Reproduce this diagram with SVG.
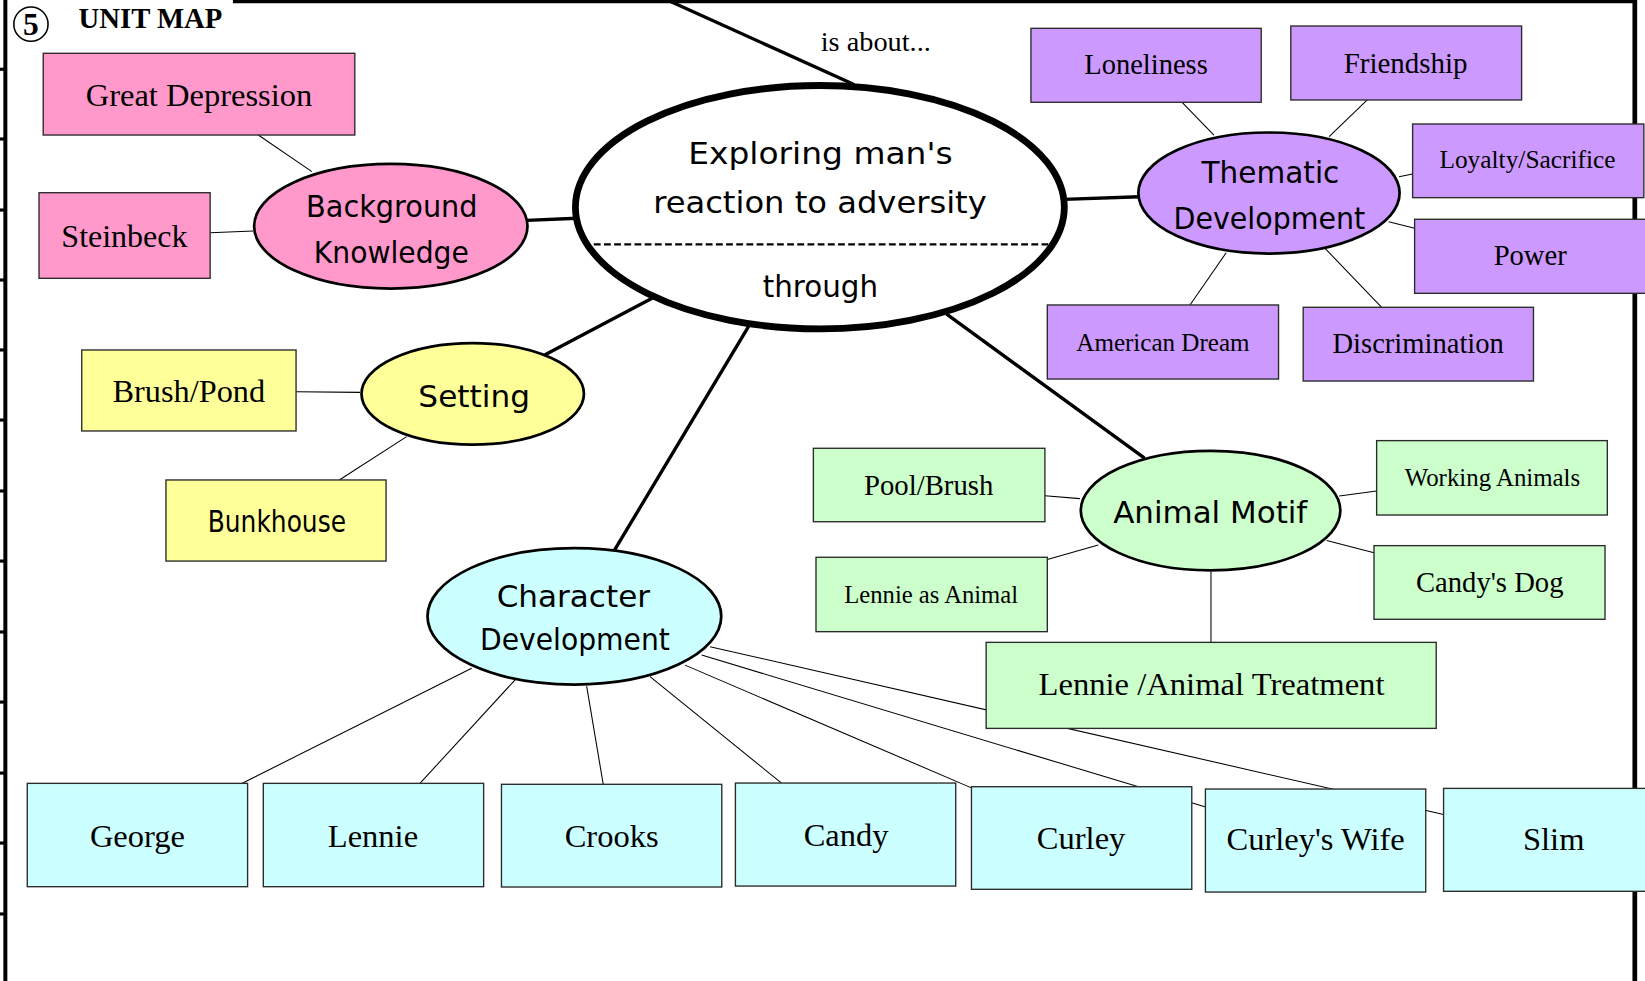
<svg xmlns="http://www.w3.org/2000/svg" width="1645" height="981" viewBox="0 0 1645 981">
<style>
.box{stroke:#2b2b2b;stroke-width:1.3}
.ell{stroke:#000;stroke-width:2.6}
.pink{fill:#FF99CC}.yel{fill:#FFFF99}.pur{fill:#CC99FF}.grn{fill:#CCFFCC}.cyn{fill:#CCFFFF}
.serif{font-family:"Liberation Serif","Times New Roman",serif;fill:#000;text-anchor:middle}
.comic{font-family:"DejaVu Sans","Noto Sans",sans-serif;fill:#000;text-anchor:middle;font-size:28px}
.thin{stroke:#000;stroke-width:1;fill:none}
.thick{stroke:#000;stroke-width:3.2;fill:none;stroke-linecap:round}
.frame{stroke:#000;fill:none}
</style>
<rect width="1645" height="981" fill="#fff"/>
<g transform="scale(1.0491)">
<g id="frame">
<line class="frame" x1="5.1" y1="0" x2="5.1" y2="935" stroke-width="3.8"/>
<g fill="#000">
<rect x="0" y="64.5" width="5" height="3"/><rect x="0" y="131" width="5" height="3"/><rect x="0" y="198.7" width="5" height="3"/><rect x="0" y="265.4" width="5" height="3"/><rect x="0" y="332.1" width="5" height="3"/><rect x="0" y="398.9" width="5" height="3"/><rect x="0" y="466.5" width="5" height="3"/><rect x="0" y="533.3" width="5" height="3"/><rect x="0" y="600.9" width="5" height="3"/><rect x="0" y="667.7" width="5" height="3"/><rect x="0" y="735.4" width="5" height="3"/><rect x="0" y="802.1" width="5" height="3"/><rect x="0" y="869.7" width="5" height="3"/>
</g>
<line class="frame" x1="222" y1="1.5" x2="1560" y2="1.5" stroke-width="3.2"/>
<line class="frame" x1="1558.3" y1="0" x2="1558.3" y2="935" stroke-width="4.5"/>
</g>
<g id="title">
<circle cx="29.5" cy="23" r="16.3" fill="none" stroke="#000" stroke-width="1.5"/>
<text class="serif" x="29.5" y="33.4" font-size="30" font-weight="bold">5</text>
<text x="74.8" y="27" font-family="Liberation Serif,serif" font-weight="bold" font-size="27.4">UNIT MAP</text>
<text class="serif" x="834.8" y="48.3" font-size="27">is about...</text>
</g>
<g id="connectors">
<line class="thick" x1="636" y1="0" x2="813" y2="80"/>
<line class="thick" x1="502" y1="210" x2="550" y2="208"/>
<line class="thick" x1="520" y1="338" x2="622" y2="284"/>
<line class="thick" x1="1014" y1="190" x2="1086" y2="187.5"/>
<line class="thick" x1="903" y1="300" x2="1090" y2="436"/>
<line class="thick" x1="713" y1="312" x2="586" y2="524"/>
<line class="thin" x1="246.2" y1="128.7" x2="297.3" y2="163.6"/>
<line class="thin" x1="200.3" y1="221.8" x2="241.5" y2="220.2"/>
<line class="thin" x1="282.2" y1="373.4" x2="343.2" y2="374"/>
<line class="thin" x1="323.4" y1="457.5" x2="387.6" y2="416.2"/>
<line class="thin" x1="1126.8" y1="97.5" x2="1157.1" y2="128.7"/>
<line class="thin" x1="1303.3" y1="95.3" x2="1266.9" y2="130.3"/>
<line class="thin" x1="1346.5" y1="165.9" x2="1333.5" y2="168.4"/>
<line class="thin" x1="1348.4" y1="217.6" x2="1323.7" y2="211.3"/>
<line class="thin" x1="1134.3" y1="290.7" x2="1168.8" y2="240.9"/>
<line class="thin" x1="1317" y1="292.9" x2="1263" y2="236.7"/>
<line class="thin" x1="996" y1="472.5" x2="1029.4" y2="475.3"/>
<line class="thin" x1="998.3" y1="533.2" x2="1046.9" y2="519.5"/>
<line class="thin" x1="1312.2" y1="468" x2="1276.6" y2="472.8"/>
<line class="thin" x1="1309.7" y1="526.8" x2="1264.6" y2="515.3"/>
<line class="thin" x1="1154.3" y1="545" x2="1154.3" y2="612.3"/>
<line class="thin" x1="449.6" y1="637" x2="230" y2="747"/>
<line class="thin" x1="491" y1="648" x2="400.3" y2="746.7"/>
<line class="thin" x1="559.2" y1="654" x2="575" y2="747.6"/>
<line class="thin" x1="619.6" y1="645" x2="745" y2="746.5"/>
<line class="thin" x1="653" y1="634" x2="926" y2="751"/>
<line class="thin" x1="668.8" y1="624.4" x2="1150" y2="769.5"/>
<line class="thin" x1="676.8" y1="616.4" x2="1376" y2="776.3"/>
</g>
<g id="central">
<ellipse cx="781.5" cy="197.5" rx="233" ry="116" fill="#fff" stroke="#000" stroke-width="6.5"/>
<line x1="566" y1="232.9" x2="1001" y2="232.9" stroke="#000" stroke-width="2" stroke-dasharray="6.5,3.2"/>
<text class="comic" x="782" y="156.6" textLength="252" lengthAdjust="spacingAndGlyphs">Exploring man's</text>
<text class="comic" x="781.6" y="203.3" textLength="318" lengthAdjust="spacingAndGlyphs">reaction to adversity</text>
<text class="comic" x="782" y="282.8" textLength="110" lengthAdjust="spacingAndGlyphs">through</text>
</g>
<g id="background-knowledge">
<ellipse class="ell pink" cx="372.5" cy="215.7" rx="130.3" ry="59.4"/>
<text class="comic" x="373.5" y="206.5" textLength="163.5" lengthAdjust="spacingAndGlyphs">Background</text>
<text class="comic" x="373" y="251" textLength="147.8" lengthAdjust="spacingAndGlyphs">Knowledge</text>
</g>
<g id="great-depression"><rect class="box pink" x="41.2" y="50.8" width="297" height="77.9"/><text class="serif" x="189.7" y="101" font-size="31">Great Depression</text></g>
<g id="steinbeck"><rect class="box pink" x="37.2" y="183.7" width="163.1" height="81.6"/><text class="serif" x="118.6" y="235.1" font-size="30.5">Steinbeck</text></g>
<g id="setting">
<ellipse class="ell yel" cx="450.6" cy="375.4" rx="106" ry="48.4"/>
<text class="comic" x="452" y="388.3" font-size="30" textLength="106.4" lengthAdjust="spacingAndGlyphs">Setting</text>
</g>
<g id="brush-pond"><rect class="box yel" x="77.9" y="333.6" width="204.3" height="77.2"/><text class="serif" x="180" y="382.9" font-size="30.8">Brush/Pond</text></g>
<g id="bunkhouse"><rect class="box yel" x="158.2" y="457.5" width="209.8" height="77.3"/><text class="comic" x="263.9" y="506.8" font-size="24" textLength="131.8" lengthAdjust="spacingAndGlyphs">Bunkhouse</text></g>
<g id="thematic-development">
<ellipse class="ell pur" cx="1209.6" cy="184" rx="124.5" ry="57.7"/>
<text class="comic" x="1211" y="174.1" textLength="131.3" lengthAdjust="spacingAndGlyphs">Thematic</text>
<text class="comic" x="1210" y="218.6" textLength="182.7" lengthAdjust="spacingAndGlyphs">Development</text>
</g>
<g id="loneliness"><rect class="box pur" x="982.7" y="27" width="219.5" height="70.5"/><text class="serif" x="1092.4" y="70.5" font-size="27.2">Loneliness</text></g>
<g id="friendship"><rect class="box pur" x="1230.4" y="24.8" width="220" height="70.5"/><text class="serif" x="1339.8" y="69.3" font-size="27.6">Friendship</text></g>
<g id="loyalty-sacrifice"><rect class="box pur" x="1346.5" y="118.2" width="220.4" height="70.2"/><text class="serif" x="1456" y="160.4" font-size="24.2">Loyalty/Sacrifice</text></g>
<g id="power"><rect class="box pur" x="1348.4" y="209" width="225" height="70.6"/><text class="serif" x="1458.6" y="252.6" font-size="27.3">Power</text></g>
<g id="american-dream"><rect class="box pur" x="998.3" y="290.7" width="220.4" height="70.6"/><text class="serif" x="1108.5" y="334.3" font-size="23.9">American Dream</text></g>
<g id="discrimination"><rect class="box pur" x="1242.2" y="292.9" width="219.5" height="70.3"/><text class="serif" x="1351.8" y="336.8" font-size="27.25">Discrimination</text></g>
<g id="animal-motif">
<ellipse class="ell grn" cx="1153.9" cy="486.7" rx="123.7" ry="57"/>
<text class="comic" x="1153.6" y="498.8" font-size="29" textLength="185" lengthAdjust="spacingAndGlyphs">Animal Motif</text>
</g>
<g id="pool-brush"><rect class="box grn" x="775.3" y="427.3" width="220.7" height="70"/><text class="serif" x="885.2" y="471.8" font-size="27.4">Pool/Brush</text></g>
<g id="lennie-as-animal"><rect class="box grn" x="777.8" y="531.2" width="220.5" height="70.9"/><text class="serif" x="887.6" y="574.5" font-size="23.5">Lennie as Animal</text></g>
<g id="working-animals"><rect class="box grn" x="1312.2" y="420" width="219.9" height="70.9"/><text class="serif" x="1422.6" y="463.3" font-size="23.7">Working Animals</text></g>
<g id="candys-dog"><rect class="box grn" x="1309.7" y="520.1" width="220.2" height="70.2"/><text class="serif" x="1420" y="564" font-size="27.3">Candy's Dog</text></g>
<g id="lennie-animal-treatment"><rect class="box grn" x="940" y="612.3" width="429" height="82"/><text class="serif" x="1154.8" y="662.5" font-size="31.1">Lennie /Animal Treatment</text></g>
<g id="character-development">
<ellipse class="ell cyn" cx="547.5" cy="587.5" rx="140" ry="65"/>
<text class="comic" x="546.5" y="578.3" textLength="146.2" lengthAdjust="spacingAndGlyphs">Character</text>
<text class="comic" x="548" y="619.6" textLength="181.1" lengthAdjust="spacingAndGlyphs">Development</text>
</g>
<g id="george"><rect class="box cyn" x="26" y="746.7" width="210" height="98.5"/><text class="serif" x="131" y="807" font-size="31">George</text></g>
<g id="lennie"><rect class="box cyn" x="251" y="746.7" width="210" height="98.5"/><text class="serif" x="355.5" y="807" font-size="31">Lennie</text></g>
<g id="crooks"><rect class="box cyn" x="478" y="747.6" width="210" height="97.9"/><text class="serif" x="583" y="807" font-size="31">Crooks</text></g>
<g id="candy"><rect class="box cyn" x="701" y="746.4" width="210" height="98.2"/><text class="serif" x="806.5" y="806" font-size="31">Candy</text></g>
<g id="curley"><rect class="box cyn" x="926" y="749.9" width="210" height="97.8"/><text class="serif" x="1030.5" y="809" font-size="31">Curley</text></g>
<g id="curleys-wife"><rect class="box cyn" x="1149" y="752.1" width="210" height="98.2"/><text class="serif" x="1254" y="810.6" font-size="31">Curley's Wife</text></g>
<g id="slim"><rect class="box cyn" x="1376" y="751.5" width="200" height="98.1"/><text class="serif" x="1481" y="810.6" font-size="31">Slim</text></g>
</g>
</svg>
